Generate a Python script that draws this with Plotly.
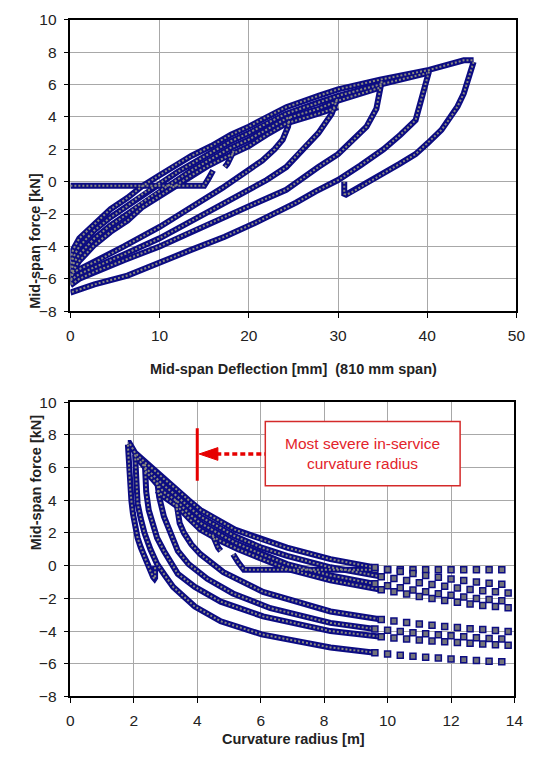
import plotly.graph_objects as go

# ---------------- TOP: force vs mid-span deflection ----------------
# initial flat positioning line
flat_x = [0, 2, 4, 6, 8, 10, 12, 14, 15, 15.5, 16]
flat_y = [-0.25, -0.25, -0.25, -0.25, -0.25, -0.25, -0.25, -0.25, -0.25, 0.2, 0.7]

# reloading band (several cycles)
e1_x = [0, 0.3, 1, 2.7, 4.5, 6.4, 8, 10, 12, 13.6, 15.8, 18, 20, 22, 24.2, 27.8, 30, 34.7, 40.2, 44.1, 45.2]
e1_y = [-4.8, -4.2, -3.5, -2.6, -1.7, -1.0, -0.3, 0.4, 1.1, 1.6, 2.2, 2.9, 3.4, 4.0, 4.6, 5.3, 5.7, 6.3, 6.9, 7.5, 7.5]
e2_x = [0, 0.3, 1, 2.7, 4.5, 6.4, 8, 10, 12, 13.6, 15.8, 18, 20, 22, 24.2, 27.8, 30, 34.7, 40]
e2_y = [-5.3, -4.7, -4.0, -3.0, -2.2, -1.5, -0.8, -0.1, 0.6, 1.1, 1.8, 2.5, 3.0, 3.6, 4.2, 4.9, 5.3, 6.0, 6.7]
e3_x = [0, 0.3, 1, 2.7, 4.5, 6.4, 8, 10, 12, 13.6, 15.8, 18, 20, 22, 24.2, 27.8, 30, 34.7]
e3_y = [-5.8, -5.1, -4.5, -3.5, -2.7, -2.0, -1.3, -0.6, 0.1, 0.7, 1.4, 2.1, 2.6, 3.2, 3.9, 4.5, 5.0, 5.8]
e4_x = [0, 0.3, 1, 2.7, 4.5, 6.4, 8, 10, 12, 13.6, 15.5, 17.3, 20, 22, 24.2, 27.8, 30]
e4_y = [-6.3, -5.5, -4.9, -3.9, -3.1, -2.4, -1.6, -0.9, -0.2, 0.4, 1.0, 1.5, 2.2, 2.9, 3.6, 4.2, 4.6]

# unloading branches
u45_x = [45.2, 45.0, 44.6, 44.1, 43.4, 42.6, 41.6, 40.1, 38.7, 36.9, 35.1, 33.2, 31.4, 30.9, 30.7, 30.7]
u45_y = [7.4, 7.05, 6.45, 5.45, 4.65, 3.95, 3.2, 2.4, 1.7, 1.1, 0.5, -0.1, -0.7, -0.8, -0.75, 0.0]
u40_x = [40.2, 40.0, 39.7, 39.2, 38.7, 37.0, 35.1, 32.5, 30.0, 27.5, 25.3, 20.9, 17.3, 13.6, 10, 6.4, 2.7, 0]
u40_y = [6.8, 6.4, 5.8, 4.8, 3.8, 2.9, 2.0, 1.0, 0.1, -0.6, -1.3, -2.5, -3.4, -4.2, -5.0, -5.8, -6.35, -6.85]
u35_x = [34.9, 34.8, 34.7, 34.3, 33.2, 31.4, 30, 27.8, 24.2, 20.9, 17.3, 13.5, 10, 6, 3, 1, 0]
u35_y = [6.2, 5.9, 5.5, 4.5, 3.4, 2.4, 1.7, 0.9, -0.5, -1.3, -2.2, -3.1, -4.0, -4.85, -5.5, -6.0, -6.4]
u30_x = [29.9, 29.6, 29.3, 27.8, 26.0, 24.2, 22, 19, 16, 13, 10, 6, 3, 1, 0]
u30_y = [5.1, 4.6, 4.2, 3.0, 2.0, 0.9, 0.1, -0.8, -1.7, -2.6, -3.5, -4.5, -5.2, -5.7, -6.1]
u25_x = [24.6, 24.4, 23.8, 22.9, 21.5, 20, 17, 13.5, 10, 6, 3, 1, 0]
u25_y = [4.0, 3.4, 2.6, 2.0, 1.3, 0.7, -0.4, -1.6, -2.8, -4.0, -4.9, -5.4, -5.7]
stub_x = [18.3, 18.0, 17.6, 17.3]
stub_y = [1.9, 1.5, 1.1, 0.9]

# ---------------- BOTTOM: force vs curvature radius ----------------
b_flat_x = [9.6, 9.0, 8.2, 7.3, 6.8, 6.3, 5.86, 5.47, 5.29, 5.13]
b_flat_y = [-0.25, -0.25, -0.25, -0.25, -0.25, -0.25, -0.25, -0.25, 0.2, 0.7]
b_e1_x = [9.6, 8.2, 6.83, 6.03, 5.19, 4.56, 4.1, 3.73, 3.39, 2.95, 2.73, 2.36, 2.04, 1.86, 1.81]
b_e1_y = [-0.11, 0.4, 1.1, 1.6, 2.2, 2.9, 3.4, 4.0, 4.6, 5.3, 5.7, 6.3, 6.9, 7.5, 7.5]
b_e2_x = [9.8, 8.2, 6.83, 6.03, 5.19, 4.56, 4.1, 3.73, 3.39, 2.95, 2.73, 2.36, 2.05]
b_e2_y = [-0.67, -0.1, 0.6, 1.1, 1.8, 2.5, 3.0, 3.6, 4.2, 4.9, 5.3, 6.0, 6.7]
b_e3_x = [9.6, 8.2, 6.83, 6.03, 5.19, 4.56, 4.1, 3.73, 3.39, 2.95, 2.73, 2.36]
b_e3_y = [-1.11, -0.6, 0.1, 0.7, 1.4, 2.1, 2.6, 3.2, 3.9, 4.5, 5.0, 5.8]
b_e4_x = [9.8, 8.2, 6.83, 6.03, 5.29, 4.74, 4.1, 3.73, 3.39, 2.95, 2.73]
b_e4_y = [-1.47, -0.9, -0.2, 0.4, 1.0, 1.5, 2.2, 2.9, 3.6, 4.2, 4.6]
b_u45_x = [1.814, 1.822, 1.839, 1.859, 1.889, 1.925, 1.971, 2.045, 2.119, 2.222, 2.336, 2.47, 2.611, 2.654, 2.671, 2.671]
b_u45_y = [7.4, 7.05, 6.45, 5.45, 4.65, 3.95, 3.2, 2.4, 1.7, 1.1, 0.5, -0.1, -0.7, -0.8, -0.75, 0.0]
b_u40_x = [2.04, 2.05, 2.065, 2.092, 2.119, 2.216, 2.336, 2.523, 2.733, 2.982, 3.241, 3.923, 4.74, 6.029, 8.2, 9.6]
b_u40_y = [6.8, 6.4, 5.8, 4.8, 3.8, 2.9, 2.0, 1.0, 0.1, -0.6, -1.3, -2.5, -3.4, -4.2, -5.0, -5.32]
b_u35_x = [2.35, 2.356, 2.363, 2.391, 2.47, 2.611, 2.733, 2.95, 3.388, 3.923, 4.74, 6.074, 8.2, 9.8]
b_u35_y = [6.2, 5.9, 5.5, 4.5, 3.4, 2.4, 1.7, 0.9, -0.5, -1.3, -2.2, -3.1, -4.0, -4.35]
b_u30_x = [2.742, 2.77, 2.799, 2.95, 3.154, 3.388, 3.727, 4.316, 5.125, 6.308, 8.2, 9.6]
b_u30_y = [5.1, 4.6, 4.2, 3.0, 2.0, 0.9, 0.1, -0.8, -1.7, -2.6, -3.5, -3.87]
b_u25_x = [3.333, 3.361, 3.445, 3.581, 3.814, 4.1, 4.824, 6.074, 8.2, 9.8]
b_u25_y = [4.0, 3.4, 2.6, 2.0, 1.3, 0.7, -0.4, -1.6, -2.8, -3.29]
b_stub_x = [4.481, 4.556, 4.659, 4.74]
b_stub_y = [1.9, 1.5, 1.1, 0.9]

# sparse tail samples (large radius)
tail_ra = [9.6, 10.0, 10.4, 10.8, 11.2, 11.6, 12.0, 12.4, 12.8, 13.2, 13.6]
tail_rb = [9.8, 10.2, 10.6, 11.0, 11.4, 11.8, 12.2, 12.6, 13.0, 13.4, 13.8]
tail_flat = [-0.25, -0.25, -0.25, -0.25, -0.25, -0.25, -0.25, -0.25, -0.25, -0.25, -0.25]
tail_e1 = [-0.11, -0.23, -0.35, -0.48, -0.60, -0.71, -0.81, -0.91, -1.0, -1.07, -1.14]
tail_e2 = [-0.67, -0.79, -0.91, -1.04, -1.15, -1.26, -1.36, -1.45, -1.53, -1.60, -1.67]
tail_e3 = [-1.11, -1.23, -1.35, -1.48, -1.60, -1.71, -1.81, -1.91, -2.0, -2.07, -2.14]
tail_e4 = [-1.47, -1.59, -1.73, -1.88, -2.01, -2.13, -2.24, -2.35, -2.43, -2.50, -2.57]
tail_a = [-5.32, -5.40, -5.47, -5.54, -5.60, -5.65, -5.71, -5.75, -5.80, -5.84, -5.88]
tail_b = [-4.35, -4.42, -4.48, -4.54, -4.60, -4.65, -4.70, -4.74, -4.79, -4.83, -4.86]
tail_c = [-3.87, -3.95, -4.03, -4.10, -4.17, -4.23, -4.29, -4.35, -4.40, -4.45, -4.49]
tail_d = [-3.29, -3.39, -3.48, -3.57, -3.64, -3.72, -3.78, -3.85, -3.91, -3.96, -4.02]

NAVY = '#0c0c82'
DOTC = '#8b8b7e'
FONT = "Liberation Sans, Arial, sans-serif"

fig = go.Figure()

top_curves = [(flat_x, flat_y), (e1_x, e1_y), (e2_x, e2_y), (e3_x, e3_y), (e4_x, e4_y),
              (u45_x, u45_y), (u40_x, u40_y), (u35_x, u35_y), (u30_x, u30_y), (u25_x, u25_y),
              (stub_x, stub_y)]
bot_curves = [(b_flat_x, b_flat_y), (b_e1_x, b_e1_y), (b_e2_x, b_e2_y), (b_e3_x, b_e3_y), (b_e4_x, b_e4_y),
              (b_u45_x, b_u45_y), (b_u40_x, b_u40_y), (b_u35_x, b_u35_y), (b_u30_x, b_u30_y),
              (b_u25_x, b_u25_y), (b_stub_x, b_stub_y)]

for curves, xa, ya in [(top_curves, 'x', 'y'), (bot_curves, 'x2', 'y2')]:
    for x, y in curves:
        fig.add_trace(go.Scatter(x=x, y=y, mode='lines', xaxis=xa, yaxis=ya,
                                 line=dict(color=NAVY, width=6), showlegend=False, hoverinfo='skip'))
    for x, y in curves:
        fig.add_trace(go.Scatter(x=x, y=y, mode='lines', xaxis=xa, yaxis=ya,
                                 line=dict(color=DOTC, width=2, dash='2px,2px'),
                                 showlegend=False, hoverinfo='skip'))

tails = [(tail_ra, tail_flat), (tail_ra, tail_e1), (tail_rb, tail_e2), (tail_ra, tail_e3),
         (tail_rb, tail_e4), (tail_ra, tail_a), (tail_rb, tail_b), (tail_ra, tail_c), (tail_rb, tail_d)]
for x, y in tails:
    fig.add_trace(go.Scatter(x=x, y=y, mode='markers', xaxis='x2', yaxis='y2',
                             marker=dict(symbol='square', size=6, color='#74747a',
                                         line=dict(color=NAVY, width=1.5)),
                             showlegend=False, hoverinfo='skip'))

ax = dict(showgrid=True, gridcolor='#a8a8a8', gridwidth=1, showline=True, linecolor='#000000',
          linewidth=1.5, mirror=True, ticks='outside', ticklen=5, tickcolor='#000000',
          tickfont=dict(family=FONT, size=15.5, color='#222222'), zeroline=False,
          ticklabelstandoff=4, fixedrange=True)

fig.update_layout(
    width=543, height=771, autosize=False,
    margin=dict(l=0, r=0, t=0, b=0),
    paper_bgcolor='white', plot_bgcolor='white', showlegend=False,
    xaxis=dict(domain=[68/543, 525/543], range=[0, 50], dtick=10, anchor='y', **ax),
    yaxis=dict(domain=[(771-309)/771, (771-11)/771], range=[-8, 10], dtick=2, anchor='x', **ax),
    xaxis2=dict(domain=[68/543, 523/543], range=[0, 14], dtick=2, anchor='y2', **ax),
    yaxis2=dict(domain=[(771-703)/771, (771-402)/771], range=[-8, 10], dtick=2, anchor='x2', **ax),
)

title_font = dict(family=FONT, size=14.5, color='#222222')
fig.add_annotation(text="<b>Mid-span force [kN]</b>", xref='paper', yref='paper',
                   x=22/543, y=(771-165)/771, textangle=-90, showarrow=False, font=title_font)
fig.add_annotation(text="<b>Mid-span force [kN]</b>", xref='paper', yref='paper',
                   x=22/543, y=(771-555)/771, textangle=-90, showarrow=False, font=title_font)
fig.add_annotation(text="<b>Mid-span Deflection [mm]  (810 mm span)</b>", xref='paper', yref='paper',
                   x=297/543, y=(771-368)/771, showarrow=False, font=title_font)
fig.add_annotation(text="<b>Curvature radius [m]</b>", xref='paper', yref='paper',
                   x=297/543, y=(771-757)/771, showarrow=False, font=title_font)

RED = '#e60000'
# marker of most severe in-service radius
fig.add_shape(type='line', xref='x2', yref='y2', x0=4, x1=4, y0=5.2, y1=8.4,
              line=dict(color=RED, width=3))
fig.add_shape(type='line', xref='x2', yref='y2', x0=4.6, x1=6.15, y0=6.83, y1=6.83,
              line=dict(color=RED, width=3.5, dash='5px,3px'))
fig.add_shape(type='path', xref='x2', yref='y2',
              path='M 4.06 6.83 L 4.65 7.22 L 4.65 6.44 Z', fillcolor=RED, line=dict(color=RED, width=1))
fig.add_shape(type='rect', xref='x2', yref='y2', x0=6.145, x1=12.286, y0=4.89, y1=8.82,
              line=dict(color='#d42a2a', width=1.5), fillcolor='white', layer='above')
fig.add_annotation(text="Most severe in-service<br>curvature radius", xref='x2', yref='y2',
                   x=9.215, y=6.86, showarrow=False,
                   font=dict(family=FONT, size=15.5, color='#e3242b'))

fig.write_html("out.html")
